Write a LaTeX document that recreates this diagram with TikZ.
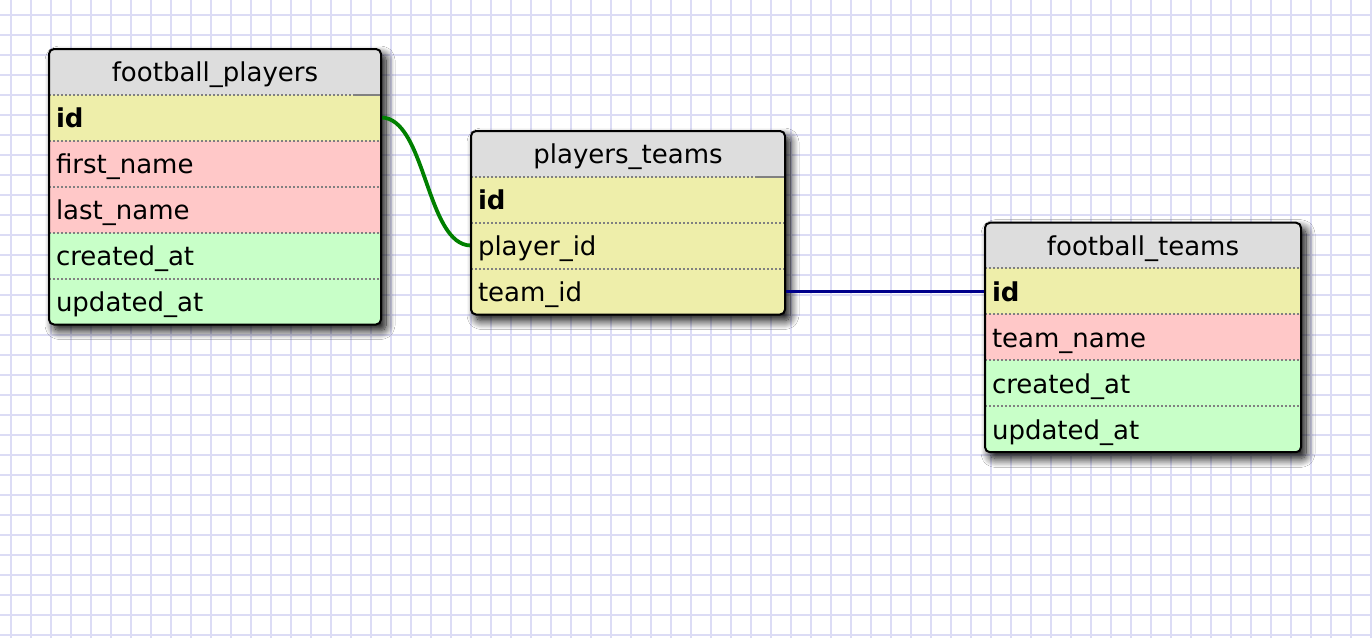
\documentclass[tikz,border=0pt]{standalone}
\usepackage{fontspec}
\setmainfont{DejaVu Sans}
\usetikzlibrary{shadows.blur}
\definecolor{hdr}{HTML}{DDDDDD}
\definecolor{yel}{HTML}{EEEEAA}
\definecolor{pnk}{HTML}{FFC8C8}
\definecolor{grn}{HTML}{C8FFC8}
\definecolor{gridc}{RGB}{220,220,245}
\definecolor{sepc}{RGB}{128,128,128}
\definecolor{relgreen}{RGB}{0,128,0}
\definecolor{relblue}{RGB}{0,0,140}
\tikzset{
  cell/.style={anchor=north west, inner sep=0pt, outer sep=0pt, minimum height=46pt, draw=none},
  hcell/.style={cell, minimum height=45.5pt, fill=hdr},
  ftext/.style={anchor=base west, inner sep=0pt, outer sep=0pt},
  htext/.style={anchor=base, inner sep=0pt, outer sep=0pt},
  sepline/.style={sepc, line width=2pt, dash pattern=on 2pt off 2pt},
  keymark/.style={sepc, line width=2pt},
  tshadow/.style={blur shadow={shadow xshift=5pt, shadow yshift=-6pt, shadow blur radius=9pt, shadow blur steps=14, shadow opacity=100}},
  border/.style={black, line width=2pt, rounded corners=5pt},
  rel/.style={line width=3.8pt}
}
\begin{document}
\begin{tikzpicture}[x=1pt,y=-1pt,font=\fontsize{26}{30}\selectfont]
\useasboundingbox (0,0) rectangle (1372,638);
\fill[white] (0,0) rectangle (1372,638);
\foreach \gx in {11,31,...,1371} \draw[gridc, line width=1.7pt] (\gx,0) -- (\gx,638);
\foreach \gy in {15,35,...,635} \draw[gridc, line width=1.7pt] (0,\gy) -- (1372,\gy);

% ---------- football_players ----------
\path[tshadow, fill=white, rounded corners=5pt] (49,49) rectangle (381,324.5);
\begin{scope}
\clip[rounded corners=5pt] (49,49) rectangle (381,324.5);
\node[hcell, minimum width=332pt] (fp) at (49,49) {};
\node[cell, minimum width=332pt, fill=yel] (fpid) at (49,94.5) {};
\node[cell, minimum width=332pt, fill=pnk] (fpfn) at (49,140.5) {};
\node[cell, minimum width=332pt, fill=pnk] (fpln) at (49,186.5) {};
\node[cell, minimum width=332pt, fill=grn] (fpca) at (49,232.5) {};
\node[cell, minimum width=332pt, fill=grn] (fpua) at (49,278.5) {};
\end{scope}
\draw[sepline] (fpid.north west) -- (fpid.north east);
\draw[keymark] ([xshift=-26pt]fpid.north east) -- (fpid.north east);
\draw[sepline] (fpfn.north west) -- (fpfn.north east);
\draw[sepline] (fpln.north west) -- (fpln.north east);
\draw[sepline] (fpca.north west) -- (fpca.north east);
\draw[sepline] (fpua.north west) -- (fpua.north east);
\node[htext] (fpt) at ([yshift=-32.5pt]fp.north) {football\_players};
\node[ftext] (fpidt) at ([xshift=7pt,yshift=-33pt]fpid.north west) {\bfseries id};
\node[ftext] (fpfnt) at ([xshift=7pt,yshift=-33pt]fpfn.north west) {first\_name};
\node[ftext] (fplnt) at ([xshift=7pt,yshift=-33pt]fpln.north west) {last\_name};
\node[ftext] (fpcat) at ([xshift=7pt,yshift=-33pt]fpca.north west) {created\_at};
\node[ftext] (fpuat) at ([xshift=7pt,yshift=-33pt]fpua.north west) {updated\_at};

% ---------- players_teams ----------
\path[tshadow, fill=white, rounded corners=5pt] (471,131) rectangle (785,314.5);
\begin{scope}
\clip[rounded corners=5pt] (471,131) rectangle (785,314.5);
\node[hcell, minimum width=314pt] (pt) at (471,131) {};
\node[cell, minimum width=314pt, fill=yel] (ptid) at (471,176.5) {};
\node[cell, minimum width=314pt, fill=yel] (ptpid) at (471,222.5) {};
\node[cell, minimum width=314pt, fill=yel] (pttid) at (471,268.5) {};
\end{scope}
\draw[sepline] (ptid.north west) -- (ptid.north east);
\draw[keymark] ([xshift=-28pt]ptid.north east) -- (ptid.north east);
\draw[sepline] (ptpid.north west) -- (ptpid.north east);
\draw[sepline] (pttid.north west) -- (pttid.north east);
\node[htext] (ptt) at ([yshift=-32.5pt]pt.north) {players\_teams};
\node[ftext] (ptidt) at ([xshift=7pt,yshift=-33pt]ptid.north west) {\bfseries id};
\node[ftext] (ptpidt) at ([xshift=7pt,yshift=-33pt]ptpid.north west) {player\_id};
\node[ftext] (pttidt) at ([xshift=7pt,yshift=-33pt]pttid.north west) {team\_id};

% ---------- football_teams ----------
\path[tshadow, fill=white, rounded corners=5pt] (985,222.7) rectangle (1301,452.4);
\begin{scope}
\clip[rounded corners=5pt] (985,222.7) rectangle (1301,452.4);
\node[hcell, minimum width=316pt] (ft) at (985,222.7) {};
\node[cell, minimum width=316pt, fill=yel] (ftid) at (985,268.2) {};
\node[cell, minimum width=316pt, fill=pnk] (fttn) at (985,314.2) {};
\node[cell, minimum width=316pt, fill=grn] (ftca) at (985,360.2) {};
\node[cell, minimum width=316pt, fill=grn] (ftua) at (985,406.2) {};
\end{scope}
\draw[sepline] (ftid.north west) -- (ftid.north east);
\draw[sepline] (fttn.north west) -- (fttn.north east);
\draw[sepline] (ftca.north west) -- (ftca.north east);
\draw[sepline] (ftua.north west) -- (ftua.north east);
\node[htext] (ftt) at ([yshift=-32.5pt]ft.north) {football\_teams};
\node[ftext] (ftidt) at ([xshift=7pt,yshift=-33pt]ftid.north west) {\bfseries id};
\node[ftext] (fttnt) at ([xshift=7pt,yshift=-33pt]fttn.north west) {team\_name};
\node[ftext] (ftcat) at ([xshift=7pt,yshift=-33pt]ftca.north west) {created\_at};
\node[ftext] (ftuat) at ([xshift=7pt,yshift=-33pt]ftua.north west) {updated\_at};

% ---------- relations ----------
\draw[rel, relgreen] (fpid.east) .. controls +(45,0) and +(-45,0) .. (ptpid.west);
\draw[rel, relblue] (pttid.east) -- (pttid.east -| ftid.west);

% ---------- borders ----------
\draw[border] (fp.north west) rectangle (fpua.south east);
\draw[border] (pt.north west) rectangle (pttid.south east);
\draw[border] (ft.north west) rectangle (ftua.south east);
\end{tikzpicture}
\end{document}
